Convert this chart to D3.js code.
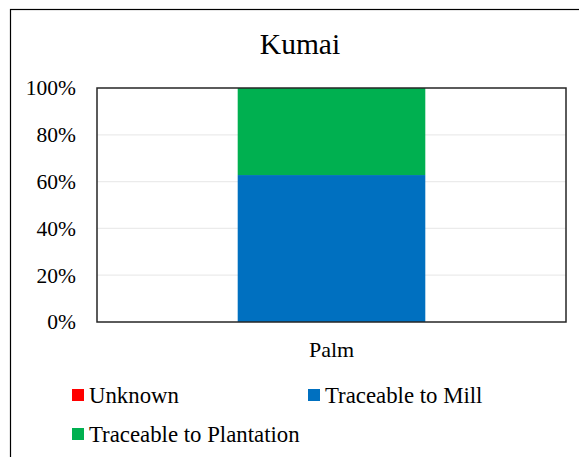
<!DOCTYPE html>
<html lang="en">
    <head>
        <meta charset="UTF-8" />
        <title>Kumai</title>
        <script src="https://d3js.org/d3.v7.min.js"></script>
        <style>
            body { margin: 0; background: #fff; }
            .grid line { stroke: #ebebeb; stroke-width: 1.2px; }
        </style>
    </head>
    <body>
        <svg width="579" height="457"></svg>

        <script>
            const width = 579,
                height = 457;
            const serif = "Liberation Serif";

            // data
            const categories = ["Palm"];
            const seriesNames = ["Unknown", "Traceable to Mill", "Traceable to Plantation"];
            const seriesColors = ["#ff0000", "#0070c0", "#00b050"];
            const unknown = [0];
            const toMill = [62.8];
            const toPlantation = [37.2];
            const yTicks = [0, 20, 40, 60, 80, 100];

            const plot = { left: 97, right: 566, top: 88, bottom: 322 };

            const svg = d3.select("svg");

            // outer chart border
            svg.append("rect")
                .attr("x", 10.5).attr("y", 9.5)
                .attr("width", width).attr("height", height)
                .attr("fill", "none").attr("stroke", "#000").attr("stroke-width", 1.2);

            svg.append("text")
                .attr("x", 300).attr("y", 54)
                .attr("text-anchor", "middle")
                .attr("font-family", serif)
                .attr("font-size", 29.5)
                .text("Kumai");

            const x = d3.scaleBand()
                .domain(categories)
                .range([plot.left, plot.right])
                .paddingInner(0.6).paddingOuter(0.3);

            const y = d3.scaleLinear()
                .domain([0, 100])
                .range([plot.bottom, plot.top]);

            // gridlines
            svg.append("g")
                .attr("class", "grid")
                .selectAll("line")
                .data(yTicks.filter((d) => d > 0 && d < 100))
                .enter()
                .append("line")
                .attr("x1", plot.left).attr("x2", plot.right)
                .attr("y1", (d) => y(d))
                .attr("y2", (d) => y(d));

            // stacked bars
            const rows = categories.map((c, i) => ({
                cat: c,
                "Unknown": unknown[i],
                "Traceable to Mill": toMill[i],
                "Traceable to Plantation": toPlantation[i],
            }));
            const stacked = d3.stack().keys(seriesNames)(rows);

            svg.append("g")
                .selectAll("g")
                .data(stacked)
                .enter()
                .append("g")
                .attr("fill", (d, i) => seriesColors[i])
                .selectAll("rect")
                .data((d) => d)
                .enter()
                .append("rect")
                .attr("x", (d) => x(d.data.cat))
                .attr("width", x.bandwidth())
                .attr("y", (d) => y(d[1]))
                .attr("height", (d) => y(d[0]) - y(d[1]));

            // plot area border
            svg.append("rect")
                .attr("x", plot.left).attr("y", plot.top)
                .attr("width", plot.right - plot.left)
                .attr("height", plot.bottom - plot.top)
                .attr("fill", "none").attr("stroke", "#262626").attr("stroke-width", 1.5);

            // y axis labels
            const yAxis = d3.axisLeft(y)
                .tickValues(yTicks)
                .tickFormat((d) => d + "%")
                .tickSize(0).tickPadding(21);
            const yg = svg.append("g")
                .attr("transform", `translate(${plot.left},0)`)
                .call(yAxis)
                .attr("font-family", serif)
                .attr("font-size", 21.5);
            yg.select(".domain").remove();
            yg.selectAll("text").attr("fill", "#000");

            // x axis label
            const xAxis = d3.axisBottom(x).tickSize(0).tickPadding(19);
            const xg = svg.append("g")
                .attr("transform", `translate(0,${plot.bottom})`)
                .call(xAxis)
                .attr("font-family", serif)
                .attr("font-size", 22);
            xg.select(".domain").remove();
            xg.selectAll("text").attr("fill", "#000");

            // legend
            const legendPos = [[72, 395], [308, 395], [72, 434]];
            const legend = svg.append("g")
                .attr("font-family", serif)
                .attr("font-size", 22.8)
                .selectAll("g")
                .data(seriesNames)
                .enter()
                .append("g")
                .attr("transform", (d, i) => `translate(${legendPos[i][0]},${legendPos[i][1]})`);
            legend.append("rect")
                .attr("x", 0).attr("y", -6)
                .attr("width", 12).attr("height", 12)
                .attr("fill", (d, i) => seriesColors[i]);
            legend.append("text")
                .attr("x", 17).attr("y", 7.5)
                .text((d) => d);
        </script>
    </body>
</html>
